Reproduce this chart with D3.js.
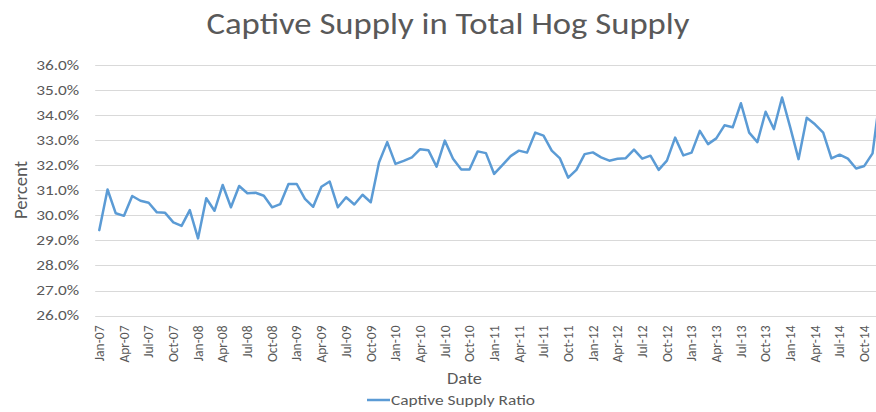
<!DOCTYPE html>
<html>
<head>
<meta charset="utf-8">
<script src="https://cdn.jsdelivr.net/npm/d3@7"></script>
<style>
  html, body { margin: 0; padding: 0; background: #fff; }
  svg { display: block; font-family: Carlito, Lato, "Open Sans", sans-serif; }
</style>
</head>
<body>
<svg id="chart" width="876" height="412"></svg>
<script>
const months = [
  "Jan-07","Feb-07","Mar-07","Apr-07","May-07","Jun-07","Jul-07","Aug-07","Sep-07","Oct-07","Nov-07","Dec-07",
  "Jan-08","Feb-08","Mar-08","Apr-08","May-08","Jun-08","Jul-08","Aug-08","Sep-08","Oct-08","Nov-08","Dec-08",
  "Jan-09","Feb-09","Mar-09","Apr-09","May-09","Jun-09","Jul-09","Aug-09","Sep-09","Oct-09","Nov-09","Dec-09",
  "Jan-10","Feb-10","Mar-10","Apr-10","May-10","Jun-10","Jul-10","Aug-10","Sep-10","Oct-10","Nov-10","Dec-10",
  "Jan-11","Feb-11","Mar-11","Apr-11","May-11","Jun-11","Jul-11","Aug-11","Sep-11","Oct-11","Nov-11","Dec-11",
  "Jan-12","Feb-12","Mar-12","Apr-12","May-12","Jun-12","Jul-12","Aug-12","Sep-12","Oct-12","Nov-12","Dec-12",
  "Jan-13","Feb-13","Mar-13","Apr-13","May-13","Jun-13","Jul-13","Aug-13","Sep-13","Oct-13","Nov-13","Dec-13",
  "Jan-14","Feb-14","Mar-14","Apr-14","May-14","Jun-14","Jul-14","Aug-14","Sep-14","Oct-14","Nov-14","Dec-14"
];
const captiveSupplyRatio = [
  29.41,31.03,30.08,29.98,30.77,30.58,30.50,30.12,30.10,29.72,29.58,30.21,
  29.08,30.68,30.18,31.21,30.32,31.17,30.88,30.90,30.78,30.32,30.45,31.25,
  31.25,30.66,30.34,31.14,31.35,30.32,30.72,30.43,30.82,30.52,32.11,32.92,
  32.05,32.17,32.31,32.64,32.60,31.94,32.98,32.26,31.83,31.83,32.55,32.48,
  31.65,32.00,32.36,32.58,32.50,33.30,33.18,32.58,32.27,31.50,31.81,32.44,
  32.51,32.31,32.18,32.26,32.28,32.62,32.26,32.38,31.81,32.18,33.10,32.39,
  32.50,33.37,32.84,33.07,33.59,33.51,34.47,33.30,32.92,34.13,33.44,34.70,
  33.50,32.24,33.89,33.63,33.30,32.27,32.42,32.26,31.87,31.97,32.47,35.00
];
const yTicks = [26,27,28,29,30,31,32,33,34,35,36];
const xTickLabels = months.filter((m, i) => i % 3 === 0);
const seriesName = "Captive Supply Ratio";
const chartTitle = "Captive Supply in Total Hog Supply";

const svg = d3.select("#chart");
const left = 95.2, bandW = 8.226;
const x = d3.scaleBand().domain(months).range([left, left + bandW * months.length]).padding(0);
const y = d3.scaleLinear().domain([26, 36]).range([315.6, 64.9]);
const grey = "#595959";

// gridlines
svg.append("g").selectAll("line").data(yTicks).join("line")
  .attr("x1", left).attr("x2", left + bandW * months.length)
  .attr("y1", d => Math.round(y(d)) + 0.5).attr("y2", d => Math.round(y(d)) + 0.5)
  .attr("stroke", "#d9d9d9").attr("stroke-width", 1);

// y axis
const yAxis = svg.append("g").attr("transform", `translate(${left},0)`)
  .call(d3.axisLeft(y).tickValues(yTicks).tickFormat(d => d.toFixed(1) + "%").tickSize(0).tickPadding(16));
yAxis.select(".domain").remove();
yAxis.selectAll("text").attr("fill", grey).style("font-size", "13.5px")
  .style("font-family", "Carlito, Lato, sans-serif")
  .attr("textLength", 43).attr("lengthAdjust", "spacingAndGlyphs");

// x axis
const xAxis = svg.append("g").attr("transform", `translate(0,${Math.round(y(26)) + 0.5})`)
  .call(d3.axisBottom(x).tickValues(xTickLabels).tickSize(0));
xAxis.select(".domain").remove();
xAxis.selectAll("text")
  .attr("fill", grey).style("font-size", "13.5px").style("font-family", "Carlito, Lato, sans-serif")
  .attr("text-anchor", "end")
  .attr("transform", "rotate(-90)")
  .attr("x", -9).attr("y", 0).attr("dy", "0.35em");

// line
const line = d3.line().x((d, i) => x(months[i]) + x.bandwidth() / 2).y(d => y(d));
svg.append("path").datum(captiveSupplyRatio)
  .attr("d", line).attr("fill", "none")
  .attr("stroke", "#5b9bd5").attr("stroke-width", 2.5)
  .attr("stroke-linejoin", "round").attr("stroke-linecap", "round");

// title
svg.append("text").attr("x", 448).attr("y", 34).attr("text-anchor", "middle")
  .attr("fill", grey).style("font-size", "30px")
  .attr("textLength", 483).attr("lengthAdjust", "spacingAndGlyphs").text(chartTitle);

// axis titles
svg.append("text").attr("transform", "translate(27,190) rotate(-90)").attr("text-anchor", "middle")
  .attr("fill", grey).style("font-size", "19px")
  .attr("textLength", 58).attr("lengthAdjust", "spacingAndGlyphs").text("Percent");
svg.append("text").attr("x", 464.5).attr("y", 384).attr("text-anchor", "middle")
  .attr("fill", grey).style("font-size", "16px")
  .attr("textLength", 35).attr("lengthAdjust", "spacingAndGlyphs").text("Date");

// legend
svg.append("line").attr("x1", 367).attr("x2", 390).attr("y1", 400).attr("y2", 400)
  .attr("stroke", "#5b9bd5").attr("stroke-width", 2.5);
svg.append("text").attr("x", 391).attr("y", 405).attr("fill", grey)
  .style("font-size", "14px")
  .attr("textLength", 144).attr("lengthAdjust", "spacingAndGlyphs").text(seriesName);
</script>
</body>
</html>
